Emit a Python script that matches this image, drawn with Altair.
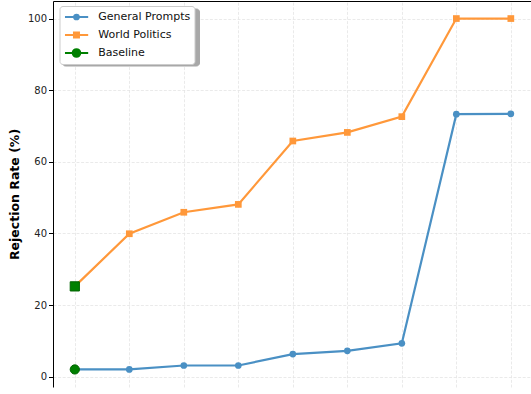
import altair as alt
import pandas as pd

steps = [0, 1, 2, 3, 4, 5, 6, 7, 8]
general_prompts = [2.0, 2.0, 3.1, 3.1, 6.3, 7.2, 9.3, 73.3, 73.4]
world_politics = [25.2, 39.9, 45.9, 48.1, 65.8, 68.2, 72.6, 100.0, 100.0]
baseline_values = [2.0, 25.2]
baseline_shapes = ["circle", "square"]
y_ticks = [0, 20, 40, 60, 80, 100]

G, W, B = "General Prompts", "World Politics", "Baseline"
BLUE, ORANGE, GREEN, DKGREEN = "#4a90c4", "#ff983a", "#008000", "#006400"

rows = []
for s, v in zip(steps, general_prompts):
    rows.append({"series": G, "step": s, "value": v})
for s, v in zip(steps, world_politics):
    rows.append({"series": W, "step": s, "value": v})
df = pd.DataFrame(rows)
base_df = pd.DataFrame({"step": [0, 0], "value": baseline_values, "shape": baseline_shapes})
leg_df = pd.DataFrame({"series": [G, W, B], "shadow_key": ["s1", "s2", "s3"],
                       "step": [0, 0, 0], "value": [0, 0, 0]})

xscale = alt.Scale(domain=[-0.4, 8.37], nice=False, zero=False)
yscale = alt.Scale(domain=[-2.9, 104.9], nice=False, zero=False)

xaxis = alt.Axis(values=steps, labels=False, ticks=False, grid=True, title=None,
                 domainColor="black", domainWidth=1)
yaxis = alt.Axis(values=y_ticks, title="Rejection Rate (%)", grid=True,
                 tickSize=4.5, tickColor="black", domainColor="black", domainWidth=1,
                 labelPadding=2, titlePadding=6)

X = alt.X("step:Q", scale=xscale, axis=xaxis)
Y = alt.Y("value:Q", scale=yscale, axis=yaxis)

line_g = alt.Chart(df).transform_filter(alt.datum.series == G).mark_line(
    strokeWidth=2.2, color=BLUE).encode(x=X, y=Y)
line_w = alt.Chart(df).transform_filter(alt.datum.series == W).mark_line(
    strokeWidth=2.2, color=ORANGE).encode(x=X, y=Y)

blue_pts = alt.Chart(df).transform_filter(alt.datum.series == G).mark_point(
    shape="circle", filled=True, size=45, opacity=1, color=BLUE).encode(x=X, y=Y)
orange_pts = alt.Chart(df).transform_filter(alt.datum.series == W).mark_point(
    shape="square", filled=True, size=45, opacity=1, color=ORANGE).encode(x=X, y=Y)

base_circle = alt.Chart(base_df).transform_filter(alt.datum.shape == "circle").mark_point(
    shape="circle", filled=True, size=85, opacity=1, fill=GREEN, stroke=DKGREEN,
    strokeWidth=1).encode(x=X, y=Y)
base_square = alt.Chart(base_df).transform_filter(alt.datum.shape == "square").mark_point(
    shape="square", filled=True, size=85, opacity=1, fill=GREEN, stroke=DKGREEN,
    strokeWidth=1).encode(x=X, y=Y)

cx = 0.92
def circ(r):
    return f"M{cx - r:.3f},0A{r},{r} 0 1,0 {cx + r:.3f},0A{r},{r} 0 1,0 {cx - r:.3f},0Z"
def sq(h):
    return f"M{cx - h:.3f},{-h}H{cx + h:.3f}V{h}H{cx - h:.3f}Z"
line_path = "M-0.85,0H2.72"
legend_paths = [line_path + circ(0.38), line_path + sq(0.4), line_path + circ(0.6)]

LX, LY = 6.5, 5.0
common = dict(title=None, orient="none", padding=3.5, rowPadding=4,
              symbolSize=169, labelFont="DejaVu Sans", labelFontSize=11, cornerRadius=3)
leg = alt.Legend(legendX=LX, legendY=LY, symbolStrokeWidth=1.8, labelColor="#111",
                 labelOffset=20.2, fillColor="white", strokeColor="#cccccc", zindex=1, **common)
shadow = alt.Legend(legendX=LX + 2.5, legendY=LY + 2.5, labelExpr="''", labelOffset=115,
                    symbolOpacity=0, fillColor="#a8a8a8", strokeColor="#a8a8a8",
                    zindex=0, **common)
names = [G, W, B]
cols = [BLUE, ORANGE, GREEN]

shadow_layer = alt.Chart(leg_df).transform_filter("datum.step < -100").mark_point(
    filled=True, opacity=1, size=169).encode(
    x=X, y=Y,
    color=alt.Color("shadow_key:N", scale=alt.Scale(domain=["s1", "s2", "s3"],
                                                    range=["#a8a8a8"] * 3),
                    legend=shadow),
)

legend_layer = alt.Chart(leg_df).transform_filter("datum.step < -100").mark_point(
    filled=True, size=169, opacity=1, strokeWidth=1.8).encode(
    x=alt.X("step:Q", scale=xscale, axis=alt.Axis(orient="top", labels=False, ticks=False,
                                                   grid=False, title=None, domainColor="#333")),
    y=Y,
    fill=alt.Fill("series:N", scale=alt.Scale(domain=names, range=cols), legend=leg),
    stroke=alt.Stroke("series:N", scale=alt.Scale(domain=names, range=cols), legend=leg),
    shape=alt.Shape("series:N", scale=alt.Scale(domain=names, range=legend_paths), legend=leg),
)

chart = alt.layer(shadow_layer, line_g, line_w, blue_pts, orange_pts, base_circle, base_square,
                  legend_layer).properties(
    width=478, height=386,
    autosize=alt.AutoSizeParams(type="none"),
    padding={"left": 53, "top": 1, "right": 0, "bottom": 7},
).configure_view(stroke=None).configure_axis(
    labelFont="DejaVu Sans", labelFontSize=10, labelColor="#222",
    titleFont="DejaVu Sans", titleFontSize=12.5, titleFontWeight="bold", titleColor="black",
    gridColor="#e4e4e4", gridDash=[3, 1.6], gridWidth=0.8,
)

chart.save("out.html", embed_options={"renderer": "svg", "actions": False})
